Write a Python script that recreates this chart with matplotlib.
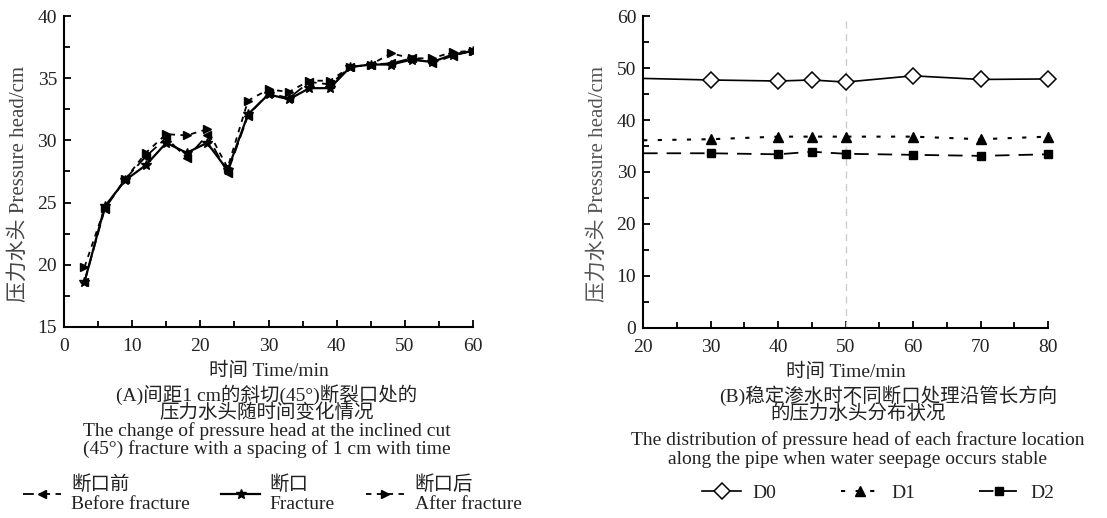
import matplotlib.pyplot as plt
from matplotlib.ticker import MultipleLocator

plt.rcParams['font.family'] = ['Liberation Serif', 'Noto Sans CJK SC']
plt.rcParams['axes.unicode_minus'] = False

# Panel A data
time_a = [3, 6, 9, 12, 15, 18, 21, 24, 27, 30, 33, 36, 39, 42, 45, 48, 51, 54, 57, 60]
before = [18.6, 24.5, 26.9, 28.7, 30.2, 28.6, 30.4, 27.4, 32.0, 33.8, 33.4, 34.7, 34.5, 35.9, 36.1, 36.2, 36.6, 36.2, 36.8, 37.2]
fracture = [18.6, 24.7, 26.8, 28.0, 29.8, 29.0, 29.8, 27.6, 32.1, 33.7, 33.3, 34.2, 34.2, 35.9, 36.1, 36.1, 36.5, 36.3, 36.9, 37.2]
after = [19.8, 24.6, 26.9, 29.0, 30.5, 30.4, 30.9, 27.8, 33.2, 34.1, 33.9, 34.8, 34.8, 35.9, 36.1, 37.0, 36.6, 36.6, 37.1, 37.2]

# Panel B data
time_b = [20, 30, 40, 45, 50, 60, 70, 80]
d0 = [48.0, 47.7, 47.5, 47.7, 47.3, 48.5, 47.8, 47.9]
d1 = [36.1, 36.3, 36.8, 36.8, 36.8, 36.8, 36.3, 36.8]
d2 = [33.6, 33.6, 33.4, 33.9, 33.5, 33.3, 33.1, 33.4]

FS = 14
TXT = '#222222'

fig = plt.figure(figsize=(11.07, 5.18), dpi=100)
ax1 = fig.add_axes([0.0578, 0.369, 0.3695, 0.600])
ax2 = fig.add_axes([0.581, 0.367, 0.3657, 0.602])

for ax in (ax1, ax2):
    ax.spines['top'].set_visible(False)
    ax.spines['right'].set_visible(False)
    ax.spines['left'].set_linewidth(1.5)
    ax.spines['bottom'].set_linewidth(1.5)
    ax.tick_params(which='both', direction='in', width=1.3, labelsize=FS,
                   labelcolor=TXT)
    ax.tick_params(axis='x', pad=8)
    ax.tick_params(axis='y', pad=5)
    ax.tick_params(which='major', length=5)
    ax.tick_params(which='minor', length=4)

# Panel A
ax1.plot(time_a, before, color='black', lw=1.3, ls=(0, (6, 3)), marker='<', ms=6,
         label='断口前\nBefore fracture')
ax1.plot(time_a, fracture, color='black', lw=1.6, ls='-', marker='*', ms=7,
         label='断口\nFracture')
ax1.plot(time_a, after, color='black', lw=1.3, ls=(0, (3, 3)), marker='>', ms=6,
         label='断口后\nAfter fracture')
ax1.set_xlim(0, 60)
ax1.set_ylim(15, 40)
ax1.xaxis.set_major_locator(MultipleLocator(10))
ax1.xaxis.set_minor_locator(MultipleLocator(5))
ax1.yaxis.set_major_locator(MultipleLocator(5))
ax1.yaxis.set_minor_locator(MultipleLocator(2.5))
ax1.set_xlabel('时间 Time/min', fontsize=FS, color=TXT, labelpad=5)
ax1.set_ylabel('压力水头 Pressure head/cm', fontsize=15, color='#444444')
ax1.yaxis.set_label_coords(-0.085, 0.46)

# Panel B
ax2.axvline(50, color='#cccccc', lw=1, ls=(0, (5, 4)))
ax2.plot(time_b, d0, color='black', lw=1.2, ls='-', marker='D', ms=8,
         mfc='white', mec='black', mew=1.1, markevery=slice(1, None),
         clip_on=False, label='D0')
ax2.plot(time_b, d1, color='black', lw=1.5, ls=(0, (2, 5)), marker='^', ms=7,
         markevery=slice(1, None), clip_on=False, label='D1')
ax2.plot(time_b, d2, color='black', lw=1.3, ls=(0, (8, 5)), marker='s', ms=6,
         markevery=slice(1, None), clip_on=False, label='D2')
ax2.set_xlim(20, 80)
ax2.set_ylim(0, 60)
ax2.xaxis.set_major_locator(MultipleLocator(10))
ax2.xaxis.set_minor_locator(MultipleLocator(5))
ax2.yaxis.set_major_locator(MultipleLocator(10))
ax2.yaxis.set_minor_locator(MultipleLocator(5))
ax2.set_xlabel('时间 Time/min', fontsize=FS, color=TXT, labelpad=5)
ax2.set_ylabel('压力水头 Pressure head/cm', fontsize=15, color='#555555')
ax2.yaxis.set_label_coords(-0.088, 0.46)

# Captions
cap_a = ['(A)间距1 cm的斜切(45°)断裂口处的', '压力水头随时间变化情况',
         'The change of pressure head at the inclined cut',
         '(45°) fracture with a spacing of 1 cm with time']
for txt, y in zip(cap_a, [395, 413, 431, 449]):
    fig.text(267 / 1107, 1 - y / 518, txt, ha='center', va='center', fontsize=FS, color=TXT)

cap_b = ['(B)稳定渗水时不同断口处理沿管长方向', '的压力水头分布状况',
         'The distribution of pressure head of each fracture location',
         'along the pipe when water seepage occurs stable']
for txt, x, y in zip(cap_b, [888, 858, 858, 858], [396, 414, 440, 459]):
    fig.text(x / 1107, 1 - y / 518, txt, ha='center', va='center', fontsize=FS, color=TXT)

# Legends
h1, l1 = ax1.get_legend_handles_labels()
fig.legend(h1, l1, loc='center', bbox_to_anchor=(272 / 1107, 1 - 494 / 518), ncol=3,
           frameon=False, fontsize=FS, handlelength=2.0, columnspacing=1.6,
           handletextpad=0.5, labelspacing=0.2, labelcolor=TXT)
h2, l2 = ax2.get_legend_handles_labels()
fig.legend(h2, l2, loc='center', bbox_to_anchor=(878 / 1107, 1 - 493 / 518), ncol=3,
           frameon=False, fontsize=FS, handlelength=2.0, columnspacing=3.3,
           handletextpad=0.6, labelcolor=TXT)

fig.savefig('out.png', dpi=100)
